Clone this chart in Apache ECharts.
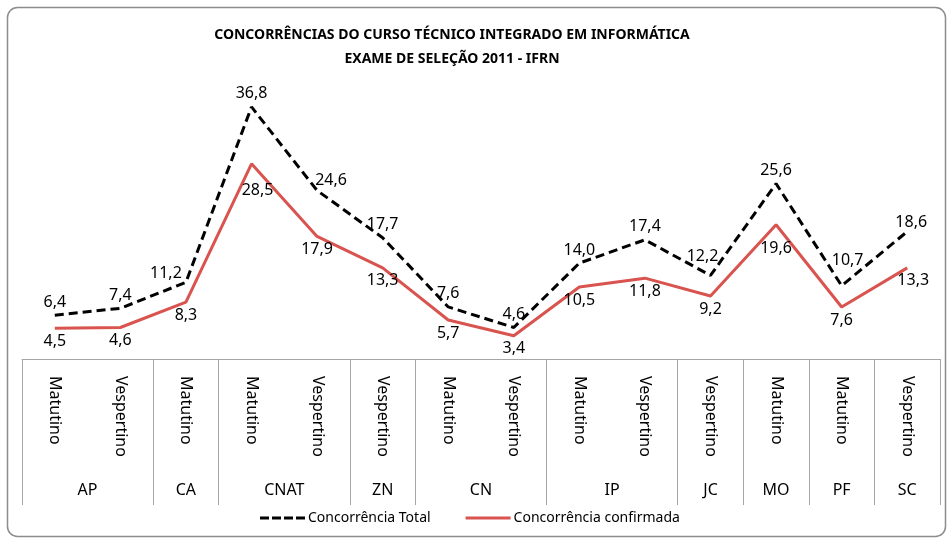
<!DOCTYPE html>
<html>
<head>
<meta charset="utf-8">
<title>Concorrências IFRN 2011</title>
<script src="https://cdn.jsdelivr.net/npm/echarts@6/dist/echarts.min.js"></script>
<style>
  html, body { margin: 0; padding: 0; background: #fff; }
  #main { width: 950px; height: 540px; }
</style>
</head>
<body>
<div id="main"></div>
<script>
// dados do gráfico
var turnos = ['Matutino', 'Vespertino', 'Matutino', 'Matutino', 'Vespertino', 'Vespertino', 'Matutino',
              'Vespertino', 'Matutino', 'Vespertino', 'Vespertino', 'Matutino', 'Matutino', 'Vespertino'];
var campi = ['AP', 'CA', 'CNAT', 'ZN', 'CN', 'IP', 'JC', 'MO', 'PF', 'SC'];
var campiTurnos = [2, 1, 2, 1, 2, 2, 1, 1, 1, 1];
var concTotal = [6.4, 7.4, 11.2, 36.8, 24.6, 17.7, 7.6, 4.6, 14.0, 17.4, 12.2, 25.6, 10.7, 18.6];
var concConfirmada = [4.5, 4.6, 8.3, 28.5, 17.9, 13.3, 5.7, 3.4, 10.5, 11.8, 9.2, 19.6, 7.6, 13.3];

// rótulos que foram deslocados à mão no original (índice -> deslocamento)
var ajusteTotal = { 2: [-20, 4], 4: [14, 3], 10: [-8, -6], 12: [6, -12], 13: [4, 4] };
var ajusteConfirmada = { 3: [6, 14], 11: [0, 11], 13: [6, 0] };

// limites e centros dos grupos (campus) no eixo secundário
var limites = [0];
var centros = [];
var nomePorCentro = {};
var acc = 0;
for (var i = 0; i < campi.length; i++) {
    var c = acc + campiTurnos[i] / 2;
    centros.push(c);
    nomePorCentro[c] = campi[i];
    acc += campiTurnos[i];
    limites.push(acc);
}

function virgula(p) {
    return p.value.toFixed(1).replace('.', ',');
}

function comAjuste(valores, ajustes) {
    return valores.map(function (v, idx) {
        if (!ajustes[idx]) return v;
        return { value: v, label: { offset: ajustes[idx] } };
    });
}

var FONTE = '"Noto Sans", "Open Sans", sans-serif';
var CINZA = '#a6a6a6';
var VERMELHO = '#d9534f';

var myChart = echarts.init(document.getElementById('main'));
var option = {
    backgroundColor: '#fff',
    textStyle: { fontFamily: FONTE },
    title: {
        text: 'CONCORRÊNCIAS DO CURSO TÉCNICO INTEGRADO EM INFORMÁTICA\nEXAME DE SELEÇÃO 2011 - IFRN',
        left: 447,
        top: 18,
        textAlign: 'center',
        textStyle: { fontFamily: FONTE, fontSize: 14, fontWeight: 'bold', color: '#000', lineHeight: 24 }
    },
    graphic: [{
        type: 'rect',
        z: -10,
        shape: { x: 7.5, y: 7.5, width: 938, height: 529, r: 10 },
        style: { fill: 'none', stroke: '#8c8c8c', lineWidth: 1.5 }
    }],
    legend: {
        bottom: 10,
        left: 255,
        itemWidth: 45,
        itemHeight: 3,
        itemGap: 35,
        textStyle: { fontFamily: FONTE, fontSize: 14, color: '#000', padding: [0, 0, 0, -2] },
        data: [{
            name: 'Concorrência Total',
            icon: 'path://M0,0h9v3h-9z M12,0h9v3h-9z M24,0h9v3h-9z M36,0h9v3h-9z'
        }, {
            name: 'Concorrência confirmada',
            icon: 'path://M0,0h45v3h-45z'
        }]
    },
    grid: { left: 22, right: 10, top: 85, bottom: 181, containLabel: false },
    xAxis: [{
        type: 'category',
        data: turnos,
        position: 'bottom',
        boundaryGap: true,
        axisLine: { lineStyle: { color: CINZA, width: 1 } },
        axisTick: { interval: 0, length: 103, lineStyle: { color: CINZA } },
        axisLabel: { interval: 0, rotate: -90, margin: 17, fontSize: 16, color: '#000', fontFamily: FONTE }
    }, {
        type: 'value',
        min: 0,
        max: 14,
        position: 'bottom',
        axisLine: { show: false },
        splitLine: { show: false },
        axisTick: { show: true, customValues: limites, length: 146, lineStyle: { color: CINZA } },
        axisLabel: {
            customValues: centros,
            margin: 123,
            fontSize: 16,
            color: '#000',
            fontFamily: FONTE,
            formatter: function (v) { return nomePorCentro[v] || ''; }
        }
    }],
    yAxis: { type: 'value', min: 0, max: 40, show: false, splitLine: { show: false } },
    series: [{
        name: 'Concorrência Total',
        type: 'line',
        data: comAjuste(concTotal, ajusteTotal),
        symbol: 'circle',
        symbolSize: 0.01,
        z: 3,
        lineStyle: { color: '#000', width: 3, type: [9, 5] },
        itemStyle: { color: '#000' },
        label: { show: true, position: 'top', distance: 5, fontSize: 16, color: '#000', fontFamily: FONTE, formatter: virgula }
    }, {
        name: 'Concorrência confirmada',
        type: 'line',
        data: comAjuste(concConfirmada, ajusteConfirmada),
        symbol: 'circle',
        symbolSize: 0.01,
        lineStyle: { color: VERMELHO, width: 3 },
        itemStyle: { color: VERMELHO },
        label: { show: true, position: 'bottom', distance: 5, fontSize: 16, color: '#000', fontFamily: FONTE, formatter: virgula }
    }]
};
myChart.setOption(option);
</script>
</body>
</html>
